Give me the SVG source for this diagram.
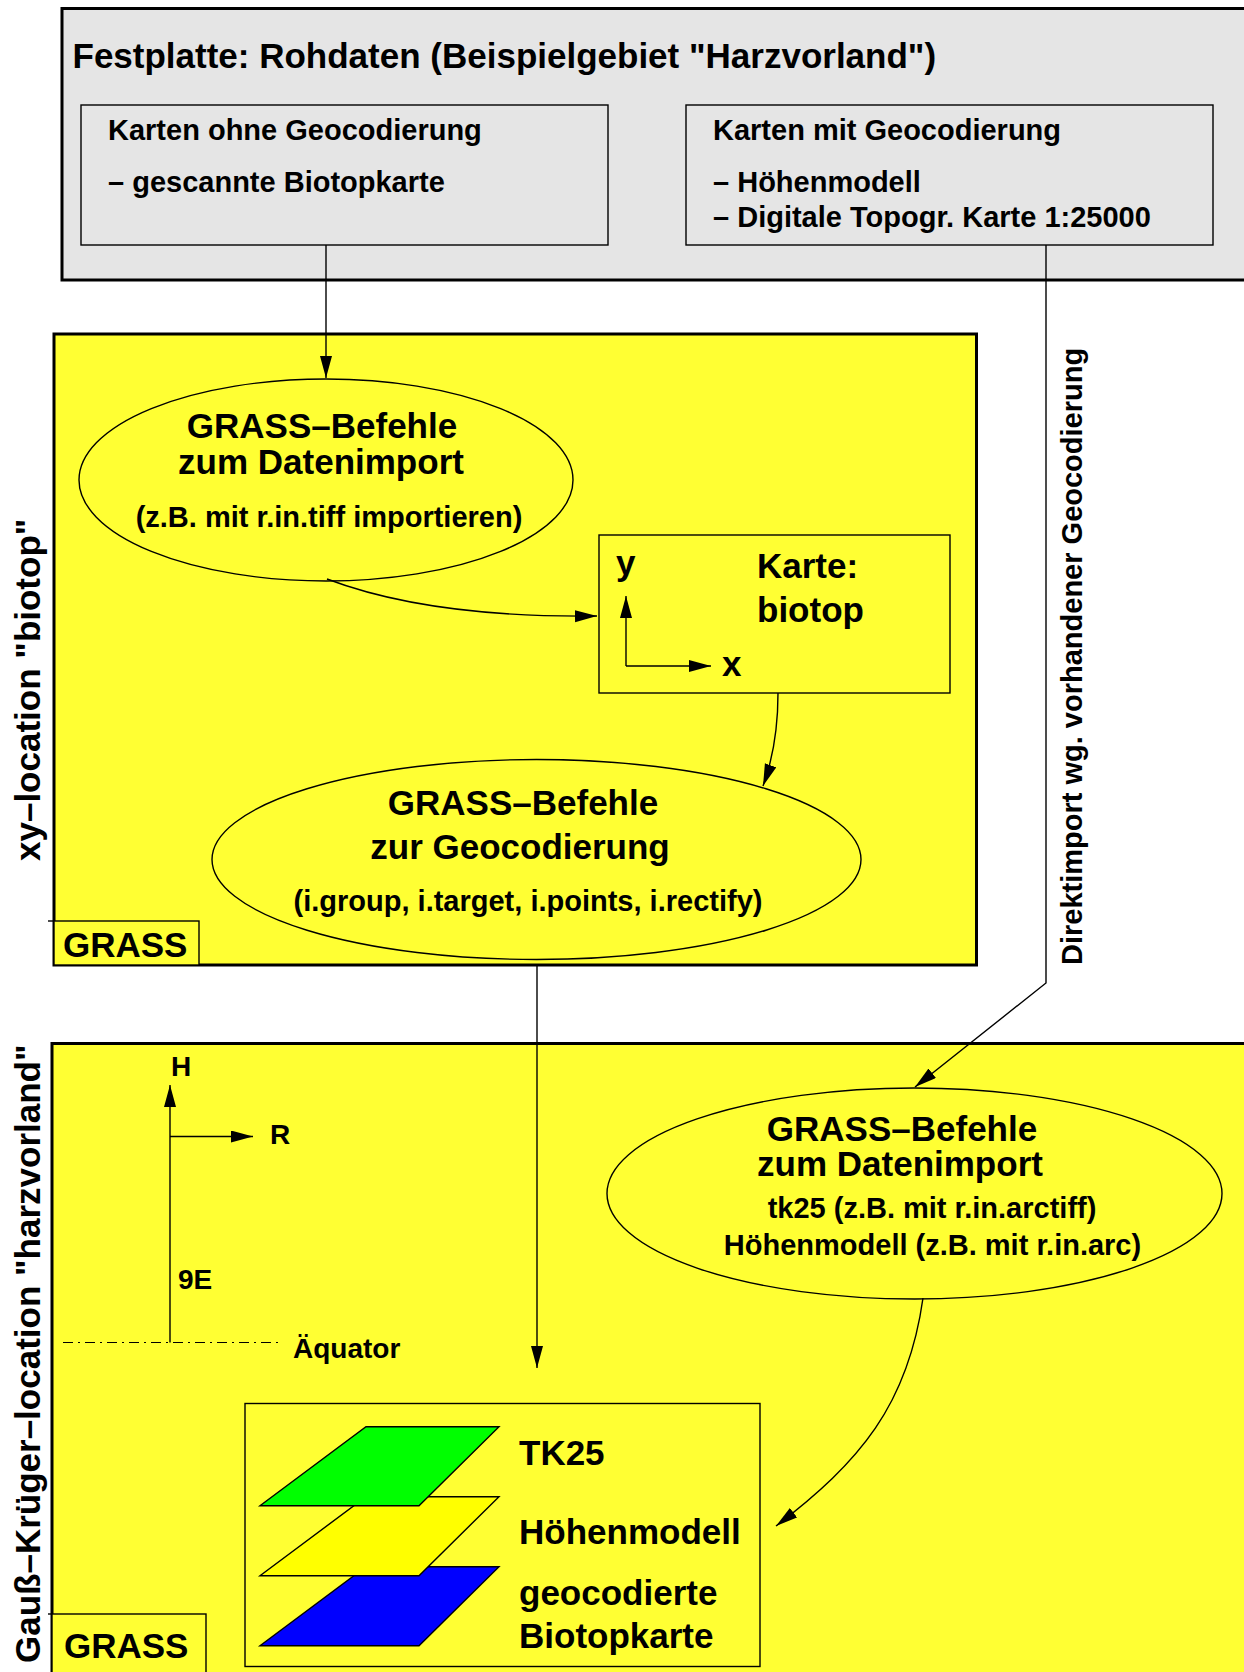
<svg xmlns="http://www.w3.org/2000/svg" width="1244" height="1672" viewBox="0 0 1244 1672">
<style>
text{font-family:"Liberation Sans",Arial,sans-serif;font-weight:bold;fill:#000}
.big{font-size:35px}
.mid{font-size:29px}
.sm{font-size:28px}
.outer{stroke:#000;stroke-width:3}
.thin{fill:none;stroke:#000;stroke-width:1.4}
.gray{fill:#e5e5e5;stroke:#000;stroke-width:1.4}
.yel{fill:#ffff33;stroke:#000;stroke-width:1.4}
.conn{fill:none;stroke:#000;stroke-width:1.4}
.c{text-anchor:middle}
</style>
<defs>
<marker id="ah" markerUnits="userSpaceOnUse" markerWidth="24" markerHeight="14" refX="22" refY="6" orient="auto">
<path d="M0,0 L22,6 L0,12 z" fill="#000"/>
</marker>
</defs>
<rect width="1244" height="1672" fill="#fff"/>

<g id="festplatte">
<rect x="62" y="8.5" width="1200" height="271.5" fill="#e5e5e5" class="outer"/>
<text class="big" x="72.5" y="68">Festplatte: Rohdaten (Beispielgebiet "Harzvorland")</text>
</g>
<g id="karten-ohne">
<rect x="81" y="105" width="527" height="140" class="gray"/>
<text class="mid" x="108" y="140">Karten ohne Geocodierung</text>
<text class="mid" x="108" y="192">– gescannte Biotopkarte</text>
</g>
<g id="karten-mit">
<rect x="686" y="105" width="527" height="140" class="gray"/>
<text class="mid" x="713" y="140">Karten mit Geocodierung</text>
<text class="mid" x="713" y="192">– Höhenmodell</text>
<text class="mid" x="713" y="227">– Digitale Topogr. Karte 1:25000</text>
</g>

<g id="xy-location">
<rect x="54" y="334" width="922.5" height="631" fill="#ffff33" class="outer"/>
<text class="big" transform="translate(39.5,861) rotate(-90)">xy–location "biotop"</text>
</g>
<g id="grass-label-1">
<rect x="54" y="921" width="145" height="44" class="yel"/>
<line x1="48" y1="921" x2="54" y2="921" stroke="#000" stroke-width="1.4"/>
<text class="big" x="63" y="957">GRASS</text>
</g>
<g id="import-1">
<ellipse cx="326" cy="480" rx="247" ry="101" class="yel"/>
<text class="big c" x="322" y="438">GRASS–Befehle</text>
<text class="big c" x="321" y="474">zum Datenimport</text>
<text class="mid c" x="329" y="527">(z.B. mit r.in.tiff importieren)</text>
</g>
<g id="karte-biotop">
<rect x="599" y="535" width="351" height="158" class="yel"/>
<text class="big" x="616" y="575">y</text>
<text class="big" x="757" y="578">Karte:</text>
<text class="big" x="757" y="622">biotop</text>
<text class="big" x="722" y="676">x</text>
<path d="M626,666 L626,596" class="conn" marker-end="url(#ah)"/>
<path d="M626,666 L711,666" class="conn" marker-end="url(#ah)"/>
</g>
<g id="geocodierung">
<ellipse cx="536.5" cy="859.5" rx="324.5" ry="100" class="yel"/>
<text class="big c" x="523" y="815">GRASS–Befehle</text>
<text class="big c" x="520" y="859">zur Geocodierung</text>
<text class="mid c" x="528" y="911">(i.group, i.target, i.points, i.rectify)</text>
</g>

<g id="direktimport-label">
<text class="mid" transform="translate(1082,965) rotate(-90)">Direktimport wg. vorhandener Geocodierung</text>
</g>

<g id="gk-location">
<rect x="52" y="1043.5" width="1210" height="650" fill="#ffff33" class="outer"/>
<text class="big" transform="translate(39.5,1663) rotate(-90)">Gauß–Krüger–location "harzvorland"</text>
</g>
<g id="grass-label-2">
<rect x="52" y="1614" width="154" height="70" class="yel"/>
<line x1="48" y1="1614" x2="52" y2="1614" stroke="#000" stroke-width="1.4"/>
<text class="big" x="64" y="1658">GRASS</text>
</g>
<g id="axes-gk">
<path d="M170,1342.5 L170,1085" class="conn" marker-end="url(#ah)"/>
<path d="M170,1136.5 L253,1136.5" class="conn" marker-end="url(#ah)"/>
<line x1="63" y1="1342.5" x2="282" y2="1342.5" stroke="#000" stroke-width="1.2" stroke-dasharray="10 5 2 5"/>
<text class="sm" x="171" y="1076">H</text>
<text class="sm" x="270" y="1144">R</text>
<text class="sm" x="178" y="1289">9E</text>
<text class="sm" x="293" y="1358">Äquator</text>
</g>
<g id="import-2">
<ellipse cx="914.5" cy="1193.5" rx="307.5" ry="105.5" class="yel"/>
<text class="big c" x="902" y="1141">GRASS–Befehle</text>
<text class="big c" x="900" y="1176">zum Datenimport</text>
<text class="mid c" x="932" y="1218">tk25 (z.B. mit r.in.arctiff)</text>
<text class="mid c" x="932.5" y="1255">Höhenmodell (z.B. mit r.in.arc)</text>
</g>
<g id="layers">
<rect x="245" y="1403.5" width="515" height="263" class="yel"/>
<polygon points="366,1566.7 499,1566.7 419,1645.7 260,1645.7" fill="#0000ff" stroke="#000" stroke-width="1.4"/>
<polygon points="366,1496.7 499,1496.7 419,1575.7 260,1575.7" fill="#ffff00" stroke="#000" stroke-width="1.4"/>
<polygon points="366,1426.7 499,1426.7 419,1505.7 260,1505.7" fill="#00ff00" stroke="#000" stroke-width="1.4"/>
<text class="big" x="519" y="1465">TK25</text>
<text class="big" x="519" y="1544">Höhenmodell</text>
<text class="big" x="519" y="1605">geocodierte</text>
<text class="big" x="519" y="1648">Biotopkarte</text>
</g>

<g id="connectors">
<path d="M326,245 L326,378" class="conn" marker-end="url(#ah)"/>
<path d="M1046,245 L1046,983 L915,1087" class="conn" marker-end="url(#ah)"/>
<path d="M327,579 Q430,618 597,616" class="conn" marker-end="url(#ah)"/>
<path d="M778,693 Q778,745 763,786" class="conn" marker-end="url(#ah)"/>
<path d="M537,965 L537,1368" class="conn" marker-end="url(#ah)"/>
<path d="M923,1298 C908,1405 860,1462 776,1526" class="conn" marker-end="url(#ah)"/>
</g>
</svg>
